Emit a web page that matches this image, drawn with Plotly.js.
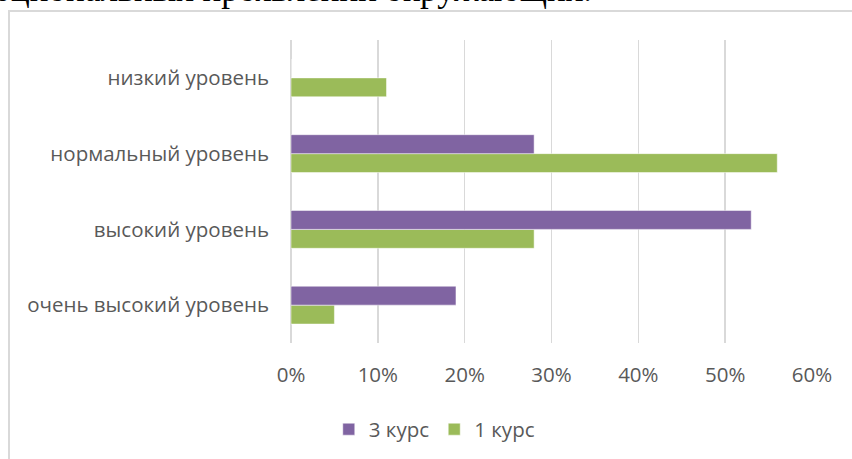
<!DOCTYPE html>
<html>
<head>
<meta charset="utf-8">
<script src="https://cdn.plot.ly/plotly-3.0.1.min.js"></script>
<style>
  html, body { margin: 0; padding: 0; background: #ffffff; overflow: hidden; width: 852px; height: 459px; }
  #caption { position: absolute; right: 260px; top: -28px; white-space: nowrap;
    font-family: 'Liberation Serif', 'DejaVu Serif', serif; font-size: 35px; line-height: 35px; color: #000; }
  #frame { position: absolute; left: 8px; top: 10px; width: 870px; height: 470px;
    border: 2px solid #d9d9d9; background: #ffffff; overflow: hidden; }
  #chart { width: 870px; height: 470px; }
</style>
</head>
<body>
<div id="caption">эмоциональных проявлений окружающих.</div>
<div id="frame"><div id="chart"></div></div>
<script>
const categories = ['очень высокий уровень', 'высокий уровень', 'нормальный уровень', 'низкий уровень'];
const seriesNames = ['1 курс', '3 курс'];
const course1 = [0.05, 0.28, 0.56, 0.11];
const course3 = [0.19, 0.53, 0.28, 0];
const tickVals = [0, 0.1, 0.2, 0.3, 0.4, 0.5, 0.6];
const tickText = ['0%', '10%', '20%', '30%', '40%', '50%', '60%'];
const colors = ['#9BBB59', '#8064A2'];

const font = { family: 'Open Sans, Noto Sans, sans-serif', size: 20.5, color: '#595959' };

const traces = [course1, course3].map((vals, i) => ({
  type: 'bar',
  orientation: 'h',
  name: seriesNames[i],
  y: categories,
  x: vals,
  marker: { color: colors[i], line: { color: 'rgba(255,255,255,0.5)', width: 1 } },
  hoverinfo: 'none'
}));

const layout = {
  width: 870, height: 470,
  margin: { l: 281, r: 68, t: 28, b: 139 },
  paper_bgcolor: '#ffffff', plot_bgcolor: '#ffffff',
  barmode: 'group', bargap: 0.5, bargroupgap: 0,
  font: font,
  showlegend: true,
  legend: { orientation: 'h', traceorder: 'reversed', x: 0.275, xanchor: 'center', y: -0.285, yanchor: 'middle',
    font: font, itemwidth: 30 },
  xaxis: {
    range: [0, 0.6], tickvals: tickVals, ticktext: tickText,
    showgrid: true, gridcolor: '#d9d9d9', gridwidth: 1.5,
    zeroline: true, zerolinecolor: '#d9d9d9', zerolinewidth: 1.5,
    showline: false, ticks: '', ticklabelstandoff: 17, tickfont: font, fixedrange: true
  },
  yaxis: {
    type: 'category', categoryorder: 'array', categoryarray: categories,
    showgrid: false, zeroline: false, showline: false, ticks: '',
    ticklabelstandoff: 21, tickfont: font, fixedrange: true
  }
};

Plotly.newPlot('chart', traces, layout, { displayModeBar: false, staticPlot: true });
</script>
</body>
</html>
